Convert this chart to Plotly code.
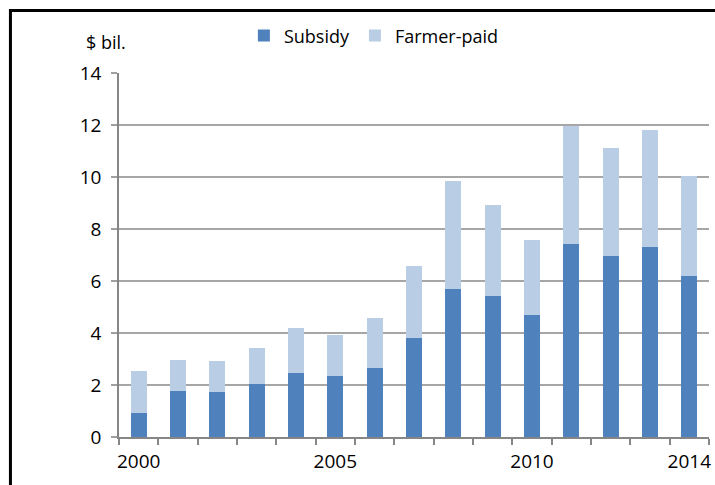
import plotly.graph_objects as go

years = [str(y) for y in range(2000, 2015)]
tick_labels = ["2000", "", "", "", "", "2005", "", "", "", "", "2010", "", "", "", "2014"]
subsidy = [0.93, 1.76, 1.73, 2.03, 2.45, 2.34, 2.66, 3.81, 5.68, 5.41, 4.68, 7.44, 6.97, 7.29, 6.19]
farmer_paid = [1.60, 1.19, 1.19, 1.38, 1.73, 1.58, 1.90, 2.75, 4.17, 3.53, 2.90, 4.52, 4.13, 4.50, 3.83]

FONT = "Open Sans"

fig = go.Figure()
fig.add_trace(go.Bar(x=years, y=subsidy, name="Subsidy", marker=dict(color="#4F81BD", line=dict(width=0))))
fig.add_trace(go.Bar(x=years, y=farmer_paid, name="Farmer-paid", marker=dict(color="#B9CDE5", line=dict(width=0))))

fig.update_layout(
    barmode="stack",
    bargap=0.6,
    width=715, height=485,
    margin=dict(l=119, r=6, t=73, b=48, autoexpand=False),
    paper_bgcolor="white",
    plot_bgcolor="white",
    font=dict(family=FONT, size=18, color="black"),
    showlegend=True,
    legend=dict(orientation="h", x=0.432, xanchor="center", y=1.102, yanchor="middle",
                font=dict(size=18), itemwidth=30, traceorder="normal", bgcolor="rgba(0,0,0,0)"),
    xaxis=dict(
        type="category",
        tickmode="array", tickvals=years, ticktext=tick_labels,
        tickson="boundaries", ticks="outside", ticklen=6, tickcolor="#868686", tickwidth=1.5,
        showline=True, linecolor="#868686", linewidth=1.5,
        showgrid=False, ticklabelstandoff=6, tickangle=0, automargin=False,
        tickfont=dict(size=19),
    ),
    yaxis=dict(
        range=[0, 14], dtick=2, tick0=0,
        ticks="outside", ticklen=6, tickcolor="#A0A0A0", tickwidth=1.5,
        showline=True, linecolor="#868686", linewidth=1.5,
        showgrid=True, gridcolor="#A6A6A6", gridwidth=1.5,
        zeroline=False, ticklabelstandoff=6, automargin=False,
        tickfont=dict(size=19),
    ),
    annotations=[dict(text="$ bil.", xref="paper", yref="paper", x=-0.06, y=1.085,
                      xanchor="left", yanchor="middle", showarrow=False, font=dict(size=18))],
    shapes=[dict(type="rect", xref="paper", yref="paper", x0=-0.184, x1=1.03, y0=-0.2, y1=1.172,
                 line=dict(color="black", width=3), fillcolor="rgba(0,0,0,0)", layer="above")],
)

fig.write_html("out.html", config={"displayModeBar": False},
               post_script="document.body.style.margin='0';document.body.style.overflow='hidden';")
